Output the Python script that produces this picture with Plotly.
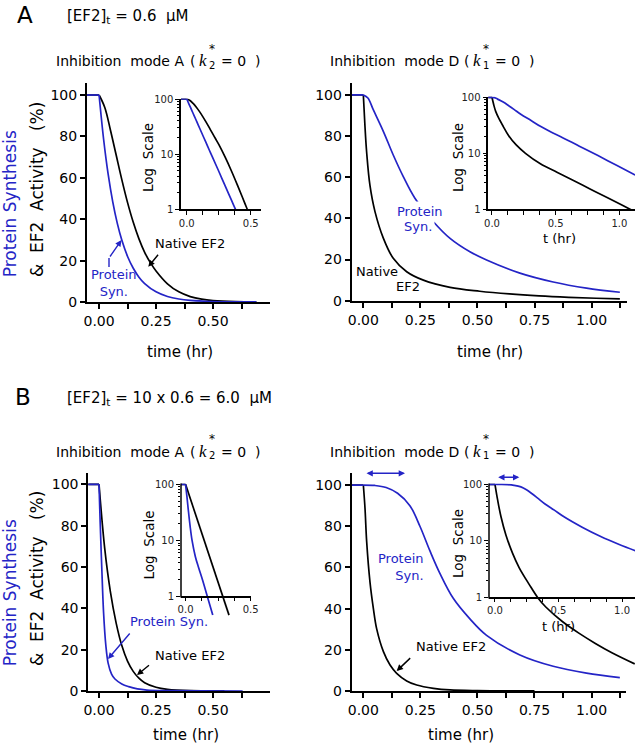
import plotly.graph_objects as go

W, H = 642, 748
FONT = "DejaVu Sans"
BLUE = "#2424c6"
BLACK = "#000000"

# ---------------- data ----------------
# Panel A  ([EF2]t = 0.6 uM), inhibition mode A
t_AA_ps = [-0.06, 0, 0.02, 0.04, 0.06, 0.08, 0.10, 0.125, 0.15, 0.175, 0.20, 0.25, 0.30, 0.35, 0.40, 0.50, 0.60, 0.69]
v_AA_ps = [100, 100, 78.5, 61.6, 48.4, 38, 29.8, 22, 16.3, 12, 8.9, 4.9, 2.65, 1.45, 0.79, 0.24, 0.07, 0.023]
t_AA_ef = [-0.06, 0, 0.025, 0.05, 0.075, 0.10, 0.125, 0.15, 0.175, 0.20, 0.225, 0.25, 0.30, 0.35, 0.40, 0.45, 0.50, 0.60, 0.69]
v_AA_ef = [100, 100, 94, 83, 71, 59, 48, 38.5, 30.5, 24, 19, 15, 8.8, 4.9, 2.6, 1.35, 0.7, 0.2, 0.06]

# Panel A, inhibition mode D
t_AD_ps = [-0.06, 0, 0.02, 0.044, 0.088, 0.131, 0.175, 0.226, 0.307, 0.38, 0.467, 0.54, 0.686, 0.832, 0.978, 1.124]
v_AD_ps = [100, 100, 98.5, 92.7, 82.2, 70.8, 60.3, 49.8, 38.4, 30.3, 23.8, 19.8, 13.4, 9.1, 6.1, 4.1]
t_AD_ef = [-0.06, 0, 0.007, 0.0146, 0.029, 0.051, 0.088, 0.131, 0.19, 0.263, 0.38, 0.51, 0.64, 0.77, 0.90, 1.02, 1.124]
v_AD_ef = [100, 100, 85, 72, 56, 43.3, 30.3, 20.6, 14.1, 10.0, 6.5, 4.6, 3.27, 2.31, 1.64, 1.19, 0.9]

# Panel B  ([EF2]t = 6.0 uM), inhibition mode A  (main plot)
t_BA_ps = [-0.06, 0, 0.005, 0.012, 0.02, 0.03, 0.04, 0.055, 0.07, 0.10, 0.13, 0.168, 0.21, 0.30, 0.45, 0.63]
v_BA_ps = [100, 100, 82, 60, 38, 22, 13.5, 8.2, 5.8, 3.4, 2.1, 1.0, 0.47, 0.2, 0.05, 0.01]
t_BA_ef = [-0.06, 0, 0.025, 0.05, 0.075, 0.10, 0.125, 0.15, 0.175, 0.20, 0.25, 0.30, 0.40, 0.55]
v_BA_ef = [100, 100, 69, 48, 33, 22, 14.5, 9.5, 6.2, 4.0, 1.8, 0.8, 0.15, 0.02]
# inset (log scale)
t_BA_ps_in = [-0.04, 0, 0.01, 0.02, 0.035, 0.05, 0.075, 0.10, 0.13, 0.168, 0.209]
v_BA_ps_in = [100, 100, 62, 37, 18, 10, 5.2, 3.3, 2.0, 1.0, 0.47]
t_BA_ef_in = [-0.04, 0, 0.334]
v_BA_ef_in = [100, 100, 0.47]

# Panel B, inhibition mode D (main plot)
t_BD_ps = [-0.06, 0, 0.05, 0.10, 0.15, 0.204, 0.248, 0.292, 0.336, 0.394, 0.467, 0.54, 0.686, 0.832, 0.978, 1.124]
v_BD_ps = [100, 100, 99.8, 98.8, 96, 90, 80, 68, 57, 45, 35, 27, 17.5, 12, 8.7, 6.5]
t_BD_ef = [-0.06, 0, 0.0073, 0.0146, 0.029, 0.044, 0.058, 0.088, 0.117, 0.146, 0.19, 0.234, 0.307, 0.38, 0.50, 0.75]
v_BD_ef = [100, 100, 88.7, 72.5, 53, 40, 30.4, 19.1, 12.6, 8.6, 4.9, 2.9, 1.3, 0.5, 0.15, 0.02]
# inset (log scale) native EF2
t_BD_ef_in = [-0.06, 0, 0.021, 0.047, 0.086, 0.138, 0.19, 0.269, 0.337, 0.40, 0.53, 0.66, 0.79, 0.92, 1.10]
v_BD_ef_in = [100, 100, 53, 27, 12.8, 6.1, 3.4, 1.72, 1.0, 0.685, 0.38, 0.237, 0.156, 0.107, 0.068]

# tick values / labels
main_y_ticks = [0, 20, 40, 60, 80, 100]
left_x_ticks = [0, 0.125, 0.25, 0.375, 0.5, 0.625]
left_x_text = ["0.00", "", "0.25", "", "0.50", ""]
right_x_ticks = [0, 0.125, 0.25, 0.375, 0.5, 0.625, 0.75, 0.875, 1.0, 1.125]
right_x_text = ["0.00", "", "0.25", "", "0.50", "", "0.75", "", "1.00", ""]
inset_left_x_ticks = [0, 0.125, 0.25, 0.375, 0.5]
inset_left_x_text = ["0.0", "", "", "", "0.5"]
inset_right_x_ticks = [0, 0.125, 0.25, 0.375, 0.5, 0.625, 0.75, 0.875, 1.0]
inset_right_x_text = ["0.0", "", "", "", "0.5", "", "", "", "1.0"]
log_ticks = [1, 10, 100]
log_text = ["1", "10", "100"]
log_minor = [2, 3, 4, 5, 6, 7, 8, 9, 20, 30, 40, 50, 60, 70, 80, 90]


def px(x):
    return x / W


def py(y):
    return 1 - y / H


fig = go.Figure()


def curve(t, v, xa, ya, color):
    fig.add_trace(go.Scatter(x=t[:2], y=v[:2], mode="lines", xaxis=xa, yaxis=ya,
                             line=dict(color=color, width=1.7), hoverinfo="skip"))
    fig.add_trace(go.Scatter(x=t[1:], y=v[1:], mode="lines", xaxis=xa, yaxis=ya,
                             line=dict(color=color, width=1.7, shape="spline", smoothing=1),
                             hoverinfo="skip"))


# main plots and insets
curve(t_AA_ef, v_AA_ef, "x", "y", BLACK)
curve(t_AA_ps, v_AA_ps, "x", "y", BLUE)
curve(t_AA_ef, v_AA_ef, "x2", "y2", BLACK)
curve(t_AA_ps, v_AA_ps, "x2", "y2", BLUE)

curve(t_AD_ef, v_AD_ef, "x3", "y3", BLACK)
curve(t_AD_ps, v_AD_ps, "x3", "y3", BLUE)
curve(t_AD_ef, v_AD_ef, "x4", "y4", BLACK)
curve(t_AD_ps, v_AD_ps, "x4", "y4", BLUE)

curve(t_BA_ef, v_BA_ef, "x5", "y5", BLACK)
curve(t_BA_ps, v_BA_ps, "x5", "y5", BLUE)
curve(t_BA_ef_in, v_BA_ef_in, "x6", "y6", BLACK)
curve(t_BA_ps_in, v_BA_ps_in, "x6", "y6", BLUE)

curve(t_BD_ef, v_BD_ef, "x7", "y7", BLACK)
curve(t_BD_ps, v_BD_ps, "x7", "y7", BLUE)
curve(t_BD_ef_in, v_BD_ef_in, "x8", "y8", BLACK)
curve(t_BD_ps, v_BD_ps, "x8", "y8", BLUE)


def main_x(dom, rng, tv, tt, anchor):
    return dict(domain=[px(dom[0]), px(dom[1])], range=rng, anchor=anchor,
                showline=True, linewidth=2, linecolor="black", ticks="outside",
                ticklen=5, tickwidth=1.5, tickcolor="black", tickvals=tv, ticktext=tt,
                showgrid=False, zeroline=False, automargin=False,
                tickfont=dict(family=FONT, size=14, color="black"))


def main_y(dom, rng, anchor):
    return dict(domain=[py(dom[1]), py(dom[0])], range=rng, anchor=anchor,
                showline=True, linewidth=2, linecolor="black", ticks="outside",
                ticklen=5, tickwidth=1.5, tickcolor="black", tickvals=main_y_ticks,
                showgrid=False, zeroline=False, automargin=False,
                tickfont=dict(family=FONT, size=14, color="black"))


def inset_x(dom, rng, tv, tt, anchor, position=None):
    d = dict(domain=[px(dom[0]), px(dom[1])], range=rng, anchor=anchor,
             showline=True, linewidth=1.5, linecolor="black", ticks="outside",
             ticklen=4, tickwidth=1, tickcolor="black", tickvals=tv, ticktext=tt,
             showgrid=False, zeroline=False, automargin=False,
             tickfont=dict(family=FONT, size=10, color="#222"))
    if position is not None:
        d["position"] = position
    return d


def inset_y(dom, rng, anchor, showline=True):
    return dict(domain=[py(dom[1]), py(dom[0])], range=rng, anchor=anchor, type="log",
                showline=showline, linewidth=1.5, linecolor="black", ticks="outside",
                ticklen=4, tickwidth=1, tickcolor="black", tickvals=log_ticks,
                ticktext=log_text, showgrid=False, zeroline=False, automargin=False,
                minor=dict(tickmode="array", tickvals=log_minor, ticks="outside",
                           ticklen=2.5, tickwidth=0.8, tickcolor="black"),
                tickfont=dict(family=FONT, size=10, color="#222"))


fig.update_layout(
    width=W, height=H, margin=dict(l=0, r=0, t=0, b=0, pad=0, autoexpand=False),
    paper_bgcolor="white", plot_bgcolor="rgba(0,0,0,0)", showlegend=False,
    xaxis=main_x((87, 270), [-0.053, 0.75], left_x_ticks, left_x_text, "y"),
    yaxis=main_y((83, 302), [0, 105.8], "x"),
    xaxis2=inset_x((181, 261), [-0.045, 0.58], inset_left_x_ticks, inset_left_x_text, "y2"),
    yaxis2=inset_y((98.5, 209.3), [0, 2.009], "x2"),
    xaxis3=main_x((351.7, 626.7), [-0.051, 1.154], right_x_ticks, right_x_text, "y3"),
    yaxis3=main_y((83, 300.7), [0, 105.8], "x3"),
    xaxis4=inset_x((488.3, 635), [-0.029, 1.123], inset_right_x_ticks, inset_right_x_text, "y4"),
    yaxis4=inset_y((96.5, 209.3), [0, 2.014], "x4"),
    xaxis5=main_x((88.3, 270), [-0.047, 0.75], left_x_ticks, left_x_text, "y5"),
    yaxis5=main_y((473, 691), [0, 105.5], "x5"),
    xaxis6=inset_x((181, 251), [-0.035, 0.503], inset_left_x_ticks, inset_left_x_text,
                   "free", py(596.7)),
    yaxis6=inset_y((483.5, 620), [-0.415, 2.014], "x6", showline=False),
    xaxis7=main_x((351.7, 626), [-0.051, 1.151], right_x_ticks, right_x_text, "y7"),
    yaxis7=main_y((473.3, 691), [0, 105.7], "x7"),
    xaxis8=inset_x((489, 635), [-0.047, 1.102], inset_right_x_ticks, inset_right_x_text,
                   "free", py(597.7)),
    yaxis8=inset_y((483.5, 668), [-1.24, 2.014], "x8", showline=False),
)

shapes = []
# y axis lines of the B insets (drawn only between 1 and 100)
shapes.append(dict(type="line", xref="paper", yref="paper", x0=px(181), x1=px(181),
                   y0=py(597.4), y1=py(483.5), line=dict(color="black", width=1.5)))
shapes.append(dict(type="line", xref="paper", yref="paper", x0=px(489), x1=px(489),
                   y0=py(598.4), y1=py(483.5), line=dict(color="black", width=1.5)))
# bent part of the arrow in panel A-left
shapes.append(dict(type="line", xref="paper", yref="paper", x0=px(109), x1=px(109),
                   y0=py(267), y1=py(258), line=dict(color=BLUE, width=1.4)))
fig.update_layout(shapes=shapes)

ann = []


def text(x, y, s, size=14, color="black", xanchor="center", yanchor="middle", angle=0,
         family=FONT, align="center", bg=None, pad=1):
    d = dict(x=px(x), y=py(y), xref="paper", yref="paper", text=s, showarrow=False,
             font=dict(family=family, size=size, color=color), xanchor=xanchor,
             yanchor=yanchor, textangle=angle, align=align, borderpad=pad)
    if bg:
        d["bgcolor"] = bg
    ann.append(d)


def arrow(head, tail, color, both=False):
    ann.append(dict(x=px(head[0]), y=py(head[1]), xref="paper", yref="paper", text="",
                    showarrow=True, ax=tail[0] - head[0], ay=tail[1] - head[1],
                    arrowhead=2, arrowsize=0.9, arrowwidth=1.4, arrowcolor=color,
                    arrowside="end+start" if both else "end", startarrowhead=2,
                    startarrowsize=0.9, standoff=0, startstandoff=0))


def title(xl, yc, mode, sub):
    text(xl, yc, "Inhibition  mode %s" % mode, size=14, xanchor="left")
    text(xl + 138.5, yc, "(", size=14)
    text(xl + 148.5, yc, "<i>k</i>", size=17, family="Liberation Serif")
    text(xl + 157.5, yc - 12, "*", size=12)
    text(xl + 157.5, yc + 4, sub, size=10)
    text(xl + 165, yc, "= 0  )", size=14, xanchor="left")


# panel letters and headers
text(25, 15, "A", size=23)
text(65, 17, "[EF2]<sub>t</sub> = 0.6  \u00b5M", size=15, xanchor="left")
text(23, 397, "B", size=23)
text(65, 398, "[EF2]<sub>t</sub> = 10 x 0.6 = 6.0  \u00b5M", size=15, xanchor="left")

title(54, 61, "A", "2")
title(328, 61, "D", "1")
title(54, 451.5, "A", "2")
title(328, 451.5, "D", "1")

# y titles (left)
for bottom in (278, 667):
    text(10, bottom - 73.8, "Protein Synthesis", size=17, color=BLUE, angle=-90)
    text(37, bottom - 87.9, "&amp;  EF2  Activity   (%)", size=17, angle=-90)

# x titles
text(180, 352, "time (hr)", size=15)
text(490, 352, "time (hr)", size=15)
text(186, 735, "time (hr)", size=15)
text(461, 735, "time (hr)", size=15)

# inset y titles and x titles
text(148, 158, "Log  Scale", size=13.5, angle=-90)
text(458, 158, "Log  Scale", size=13.5, angle=-90)
text(148, 545.5, "Log  Scale", size=13.5, angle=-90)
text(458, 544, "Log  Scale", size=13.5, angle=-90)
text(559, 238.5, "t (hr)", size=13)
text(558, 626.5, "t (hr)", size=13)

# curve labels, panel A-left
text(114, 283, "Protein<br>Syn.", size=13, color=BLUE)
arrow((121.5, 240), (109, 258), BLUE)
text(190, 244, "Native EF2", size=13)
arrow((148.3, 266.7), (159.3, 253.3), BLACK)

# panel A-right (label interrupts the curve)
text(420, 211, "Protein", size=13, color=BLUE, bg="white", pad=2)
text(417.5, 226.5, "Syn.", size=13, color=BLUE, bg="white", pad=2)
text(377, 271, "Native", size=13)
text(408, 286.5, "EF2", size=13)

# panel B-left
text(128, 621, "Protein Syn.", size=13, color=BLUE, xanchor="left")
arrow((108, 659), (131, 632), BLUE)
text(153, 655, "Native EF2", size=13, xanchor="left")
arrow((137, 675), (150.5, 664), BLACK)

# panel B-right
text(426, 567, "Protein<br>Syn.", size=13, color=BLUE, xanchor="right", align="right")
text(414, 646, "Native EF2", size=13, xanchor="left")
arrow((396.7, 671), (411.7, 656.7), BLACK)

# double arrows (lag phase)
arrow((405, 473.3), (365, 473.3), BLUE, both=True)
arrow((519.3, 477.3), (496.7, 477.3), BLUE, both=True)

fig.update_layout(annotations=ann)
fig.write_html("out.html", config={"displayModeBar": False},
               post_script="document.body.style.margin='0px';document.body.style.overflow='hidden';")
